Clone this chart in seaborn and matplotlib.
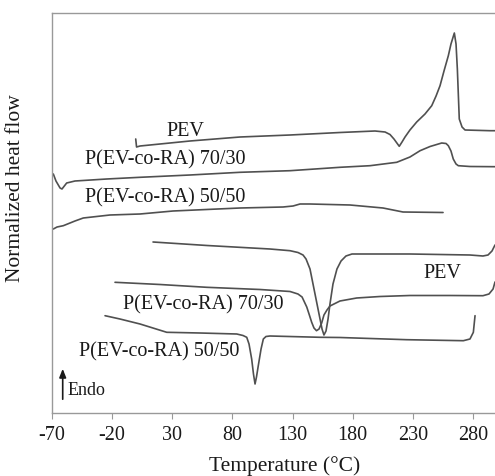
import numpy as np
import pandas as pd
import matplotlib
matplotlib.use("Agg")
import matplotlib.pyplot as plt
import seaborn as sns

# ---- data (temperature in °C, normalized heat flow in arbitrary offset units) ----
pev_heat_T = [-0.4, 0.3, 3.2, 44.7, 86.3, 127.9, 169.4, 198.5, 206.9, 211.0, 214.3, 218.7,
              221.0, 223.5, 227.6, 233.2, 240.1, 245.7, 249.3, 252.6, 255.9, 259.5, 261.7,
              264.5, 265.9, 267.0, 268.6, 270.9, 273.4, 294.2, 298.3]
pev_heat_H = [274, 266, 267, 272, 276, 278, 280.5, 282, 281, 278.5, 274, 266.7,
              271, 276, 283, 291, 299, 307.3, 317, 327.3, 342, 357.3, 369,
              380, 369, 344, 294, 286, 283, 282.3, 282.3]

c7030_heat_T = [-68.9, -66.7, -63.3, -61.7, -57.8, -50.9, -24.5, 3.2, 44.7, 86.3, 127.9,
                169.4, 194.4, 216.6, 227.6, 236.0, 244.3, 254.0, 257.6, 259.5, 261.7,
                263.6, 265.9, 267.8, 277.5, 298.3]
c7030_heat_H = [239, 232, 225, 224, 230, 232, 234, 235.7, 238, 240.7, 242.3,
                245.7, 247.3, 250.7, 256, 262.3, 266.5, 270, 269.5, 267.3, 262,
                254, 249, 247.3, 246.5, 246.3]

c5050_heat_T = [-68.9, -65.8, -60.6, -50.9, -44.0, -21.8, 3.2, 30.6, 86.3, 122.1, 130.4,
                136.2, 144.5, 177.8, 205.2, 221.8, 255.1]
c5050_heat_H = [184, 186, 187.3, 192, 195, 198, 199, 202, 205, 206, 207,
                209, 209, 208, 205, 201, 200.5]

pev_cool_T = [14.0, 58.9, 111.2, 127.9, 134.5, 138.7, 141.2, 144.5, 147.0, 149.5, 152.0,
              154.5, 156.1, 157.8, 159.5, 161.1, 163.6, 166.9, 170.3, 174.4, 179.4, 227.6,
              277.5, 288.3, 292.5, 295.8, 298.3]
pev_cool_H = [171, 167.5, 164, 162.3, 160.5, 158, 154, 144, 129, 114, 99,
              84, 78, 82, 94, 109, 129, 144, 152, 157, 159, 159,
              158, 157, 158, 162, 168]

c7030_cool_T = [-17.6, 19.8, 58.6, 102.9, 127.9, 134.5, 137.9, 141.8, 143.7, 145.9, 147.8,
                149.9, 152.0, 154.2, 156.1, 158.6, 161.1, 169.4, 183.3, 202.7, 227.6, 260.9,
                288.3, 293.3, 296.7, 298.3]
c7030_cool_H = [130.7, 128.5, 125.7, 123.5, 121.5, 119, 116, 106, 99, 90.7, 85,
                82.3, 84, 90, 98, 103, 107, 112, 115, 116.5, 117.5, 117.5,
                117.3, 119, 124, 131]

c5050_cool_T = [-25.9, -13.5, 3.2, 25.4, 53.0, 83.6, 88.8, 91.9, 93.8, 96.0, 97.5, 98.8,
                100.0, 101.5, 103.8, 105.7, 107.9, 111.2, 152.8, 169.4, 224.9, 272.0,
                277.5, 280.3, 281.7]
c5050_cool_H = [97.3, 94, 89, 80.7, 80, 79, 77.5, 75.7, 69, 54, 39, 29,
                36, 47.3, 64, 74, 76.5, 77, 75.7, 75.5, 73.3, 72.3,
                74, 80.7, 97.3]

curve_labels = ["PEV", "P(EV-co-RA) 70/30", "P(EV-co-RA) 50/50",
                "PEV", "P(EV-co-RA) 70/30", "P(EV-co-RA) 50/50"]
label_T = [40.6, 23.9, 23.9, 254.2, 55.5, 19.0]
label_H = [283, 254, 216, 140, 109, 62]

x_ticks = [-70, -20, 30, 80, 130, 180, 230, 280]

# ---- build a long table ----
curves = [
    ("PEV heat", pev_heat_T, pev_heat_H),
    ("70/30 heat", c7030_heat_T, c7030_heat_H),
    ("50/50 heat", c5050_heat_T, c5050_heat_H),
    ("PEV cool", pev_cool_T, pev_cool_H),
    ("70/30 cool", c7030_cool_T, c7030_cool_H),
    ("50/50 cool", c5050_cool_T, c5050_cool_H),
]

sns.set_style("white")
plt.rcParams['font.family'] = ['Liberation Serif', 'DejaVu Serif']

fig = plt.figure(figsize=(4.95, 4.77), dpi=100)
ax = fig.add_axes([52 / 495, 63 / 477, 443 / 495, 400 / 477])

line_color = "#505050"
for name, T, H in curves:
    df = pd.DataFrame({"T": T, "H": H})
    sns.lineplot(data=df, x="T", y="H", sort=False, estimator=None,
                 color=line_color, linewidth=1.2, ax=ax)

for txt, tx, ty in zip(curve_labels, label_T, label_H):
    ax.text(tx, ty, txt, fontsize=14.5, ha="center", va="center", color="#1a1a1a")

# Endo arrow
ax.annotate("", xy=(-61.1, 47), xytext=(-61.1, 11),
            arrowprops=dict(arrowstyle="-|>,head_length=0.5,head_width=0.2",
                            color="#1a1a1a", lw=1.2))
ax.text(-57.5, 23, "Endo", fontsize=13, ha="left", va="center", color="#1a1a1a")

ax.set_xlim(-70, 298.3)
ax.set_ylim(0, 400)
ax.set_xticks(x_ticks)
ax.set_xticklabels([str(t) for t in x_ticks])
ax.set_yticks([])
ax.tick_params(axis="x", direction="out", length=4, width=0.8, color="#999999",
               pad=5, labelsize=14.5, labelcolor="#1a1a1a", bottom=True)

for side in ["left", "top", "bottom"]:
    ax.spines[side].set_color("#999999")
    ax.spines[side].set_linewidth(1.0)
ax.spines["right"].set_visible(False)

ax.set_xlabel("Temperature (°C)", fontsize=15.5, color="#1a1a1a")
ax.set_ylabel("Normalized heat flow", fontsize=15.5, color="#1a1a1a")
ax.xaxis.set_label_coords(0.526, -0.105)
ax.yaxis.set_label_coords(-0.06, 0.565)

fig.savefig("out.png", dpi=100)
